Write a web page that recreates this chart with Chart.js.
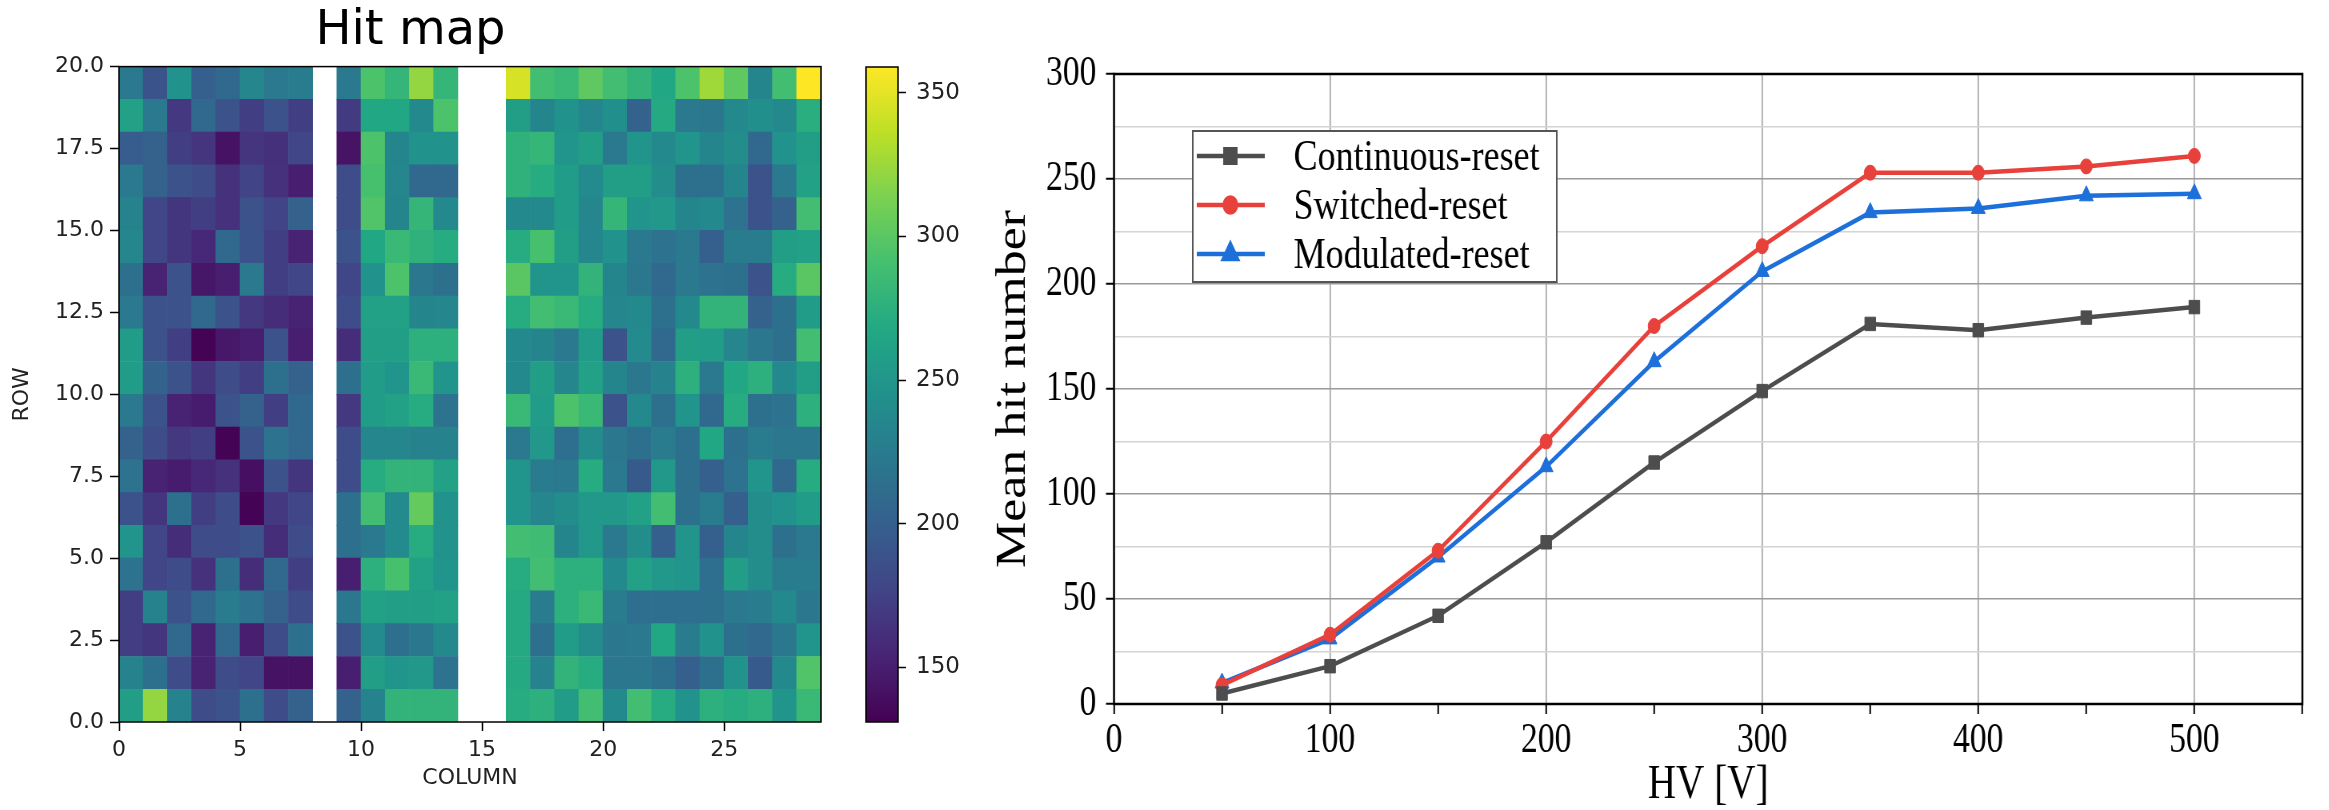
<!DOCTYPE html>
<html>
<head>
<meta charset="utf-8">
<title>Hit map / Mean hit number</title>
<script src="https://cdn.jsdelivr.net/npm/chart.js@4.4.1/dist/chart.umd.min.js"></script>
<style>
  html, body { margin: 0; padding: 0; background: #fff; }
  body { width: 2329px; height: 810px; position: relative; overflow: hidden; }
  #hitmap { position: absolute; left: 0; top: 0; }
  #colorbar { position: absolute; left: 850px; top: 0; }
  /* the right panel of the reference is squeezed horizontally */
  #hvWrap { position: absolute; left: 960px; top: 0; width: 1711px; height: 810px;
            transform: scaleX(0.8); transform-origin: 0 0; }
</style>
</head>
<body>
<canvas id="hitmap" width="850" height="810"></canvas>
<canvas id="colorbar" width="110" height="810"></canvas>
<div id="hvWrap"><canvas id="hvChart" width="1711" height="810"></canvas></div>
<script>
// ---- hit map data ----
const COLUMNS = [0, 1, 2, 3, 4, 5, 6, 7, 8, 9, 10, 11, 12, 13, 14, 15, 16, 17, 18, 19, 20, 21, 22, 23, 24, 25, 26, 27, 28];
const X_TICKS = [0, 5, 10, 15, 20, 25];
const Y_TICKS = [0, 2.5, 5, 7.5, 10, 12.5, 15, 17.5, 20];
const CB_TICKS = [150, 200, 250, 300, 350];
const VMIN = 131;
const VMAX = 359;
// one line per row, row 0 at the bottom; null = dead columns (8, 14, 15)
const HIT_COUNTS = [
  [258, 322, 232, 183, 188, 215, 183, 202, null, 202, 232, 279, 279, 279, null, null, 271, 275, 256, 289, 238, 289, 271, 246, 275, 271, 275, 249, 284],
  [232, 215, 183, 153, 183, 178, 142, 142, null, 150, 258, 249, 252, 217, null, null, 269, 232, 279, 271, 221, 221, 215, 200, 215, 246, 195, 238, 296],
  [172, 166, 208, 153, 208, 150, 183, 215, null, 188, 239, 215, 221, 238, null, null, 269, 215, 256, 241, 221, 223, 267, 225, 246, 215, 208, 221, 249],
  [172, 232, 188, 208, 225, 217, 202, 183, null, 221, 261, 258, 258, 261, null, null, 269, 225, 275, 284, 225, 213, 213, 213, 215, 223, 225, 238, 221],
  [217, 178, 183, 163, 215, 160, 208, 172, null, 150, 275, 292, 261, 249, null, null, 271, 289, 275, 275, 238, 261, 252, 249, 213, 258, 241, 225, 225],
  [249, 178, 160, 183, 183, 188, 160, 183, null, 215, 223, 239, 271, 246, null, null, 289, 287, 234, 252, 223, 241, 200, 249, 200, 234, 241, 215, 223],
  [188, 166, 215, 172, 183, 132, 168, 178, null, 215, 289, 239, 304, 246, null, null, 249, 236, 241, 252, 252, 261, 289, 215, 225, 200, 241, 246, 256],
  [217, 153, 148, 157, 163, 140, 188, 166, null, 183, 271, 279, 279, 261, null, null, 249, 225, 223, 271, 223, 195, 252, 215, 200, 217, 249, 208, 271],
  [202, 183, 168, 172, 132, 188, 217, 208, null, 183, 236, 236, 232, 232, null, null, 223, 252, 213, 241, 221, 215, 225, 215, 267, 215, 225, 221, 221],
  [223, 188, 153, 148, 188, 202, 172, 208, null, 168, 256, 261, 271, 217, null, null, 284, 256, 294, 284, 188, 238, 215, 249, 208, 271, 215, 217, 275],
  [256, 203, 188, 166, 183, 172, 215, 202, null, 215, 256, 249, 284, 249, null, null, 238, 258, 236, 261, 234, 221, 232, 275, 223, 267, 275, 238, 258],
  [256, 188, 172, 132, 146, 150, 188, 150, null, 160, 258, 258, 275, 275, null, null, 238, 234, 223, 256, 188, 239, 208, 258, 256, 236, 221, 215, 289],
  [223, 188, 188, 208, 188, 168, 160, 153, null, 183, 261, 261, 234, 236, null, null, 271, 289, 284, 271, 236, 238, 215, 238, 279, 279, 202, 215, 256],
  [215, 153, 188, 145, 150, 223, 172, 178, null, 178, 246, 294, 221, 215, null, null, 300, 249, 249, 279, 234, 221, 208, 223, 217, 215, 188, 271, 300],
  [236, 178, 166, 157, 208, 190, 172, 153, null, 188, 267, 284, 277, 271, null, null, 271, 292, 258, 236, 246, 223, 217, 223, 200, 225, 225, 258, 261],
  [232, 178, 166, 172, 163, 188, 177, 202, null, 183, 296, 234, 281, 238, null, null, 238, 238, 256, 236, 281, 249, 252, 234, 238, 217, 188, 202, 289],
  [223, 202, 188, 183, 163, 177, 163, 150, null, 183, 292, 236, 208, 208, null, null, 277, 271, 256, 239, 258, 258, 241, 215, 215, 234, 188, 223, 261],
  [198, 202, 172, 165, 142, 165, 162, 178, null, 143, 294, 234, 246, 246, null, null, 277, 281, 249, 258, 223, 249, 238, 249, 234, 241, 208, 246, 258],
  [261, 223, 168, 208, 188, 172, 188, 172, null, 170, 267, 267, 238, 294, null, null, 258, 234, 246, 236, 244, 203, 269, 223, 221, 238, 244, 238, 274],
  [223, 190, 246, 200, 208, 236, 223, 225, null, 223, 294, 281, 322, 281, null, null, 345, 289, 284, 302, 289, 279, 267, 294, 326, 302, 234, 289, 359]
];

// ---- mean hit number vs HV ----
const HV = [50, 100, 150, 200, 250, 300, 350, 400, 450, 500];
const CONTINUOUS = [5, 18, 42, 77, 115, 149, 181, 178, 184, 189];
const SWITCHED = [9, 33, 73, 125, 180, 218, 253, 253, 256, 261];
const MODULATED = [10, 31, 70, 113, 163, 206, 234, 236, 242, 243];

// viridis colour map
const VIRIDIS = ['#440154', '#482475', '#414487', '#355f8d', '#2a788e', '#21918c',
                 '#22a884', '#44bf70', '#7ad151', '#bddf26', '#fde725'];

function hexRgb(h) {
    return [1, 3, 5].map(i => parseInt(h.substr(i, 2), 16));
}

function viridis(v) {
    let t = (v - VMIN) / (VMAX - VMIN);
    t = Math.min(1, Math.max(0, t));
    const p = t * (VIRIDIS.length - 1);
    const i = Math.min(Math.floor(p), VIRIDIS.length - 2);
    const f = p - i;
    const a = hexRgb(VIRIDIS[i]);
    const b = hexRgb(VIRIDIS[i + 1]);
    const c = a.map((x, k) => Math.round(x + (b[k] - x) * f));
    return `rgb(${c[0]}, ${c[1]}, ${c[2]})`;
}

// black box round the plot area
function framePlugin(color, width) {
    return {
        id: 'frame',
        afterDatasetsDraw(chart) {
            const {ctx, chartArea: a} = chart;
            ctx.save();
            ctx.strokeStyle = color;
            ctx.lineWidth = width;
            ctx.strokeRect(a.left, a.top, a.right - a.left, a.bottom - a.top);
            ctx.restore();
        }
    };
}

const SANS = 'DejaVu Sans';
const SERIF = "'Liberation Serif', 'Times New Roman', serif";

// 히트맵: each row is a dataset of floating bars [row, row + 1]
const rowSets = HIT_COUNTS.map((vals, r) => ({
    label: 'row ' + r,
    data: COLUMNS.filter(c => vals[c] !== null)
                 .map(c => ({x: c + 0.5, y: [r, r + 1], v: vals[c]})),
    backgroundColor: ctx => (ctx.raw ? viridis(ctx.raw.v) : '#000'),
    borderWidth: 0,
    grouped: false,
    barPercentage: 1,
    categoryPercentage: 1
}));

new Chart(document.getElementById('hitmap'), {
    type: 'bar',
    data: { datasets: rowSets },
    options: {
        responsive: false,
        animation: false,
        events: [],
        layout: { padding: { left: 0, right: 29, top: 0, bottom: 0 } },
        plugins: {
            legend: { display: false },
            tooltip: { enabled: false },
            title: {
                display: true,
                text: 'Hit map',
                color: '#000',
                font: { family: SANS, size: 48, weight: 'normal', lineHeight: 1.2 },
                padding: { top: 3, bottom: 6 }
            }
        },
        scales: {
            x: {
                type: 'linear',
                min: 0,
                max: 29,
                offset: false,
                afterBuildTicks: s => { s.ticks = X_TICKS.map(v => ({ value: v })); },
                afterFit: s => { s.height = 88; },
                ticks: { color: '#222', font: { family: SANS, size: 22 }, padding: 6, maxRotation: 0, autoSkip: false },
                grid: { offset: false, drawOnChartArea: false, tickLength: 9, tickColor: '#000', tickWidth: 1.5 },
                border: { display: false },
                title: {
                    display: true, text: 'COLUMN', color: '#222',
                    font: { family: SANS, size: 22, lineHeight: 1 },
                    padding: { top: 0, bottom: 21 }
                }
            },
            y: {
                type: 'linear',
                min: 0,
                max: 20,
                afterBuildTicks: s => { s.ticks = Y_TICKS.map(v => ({ value: v })); },
                afterFit: s => { s.width = 119; },
                ticks: { color: '#222', font: { family: SANS, size: 22 }, padding: 6,
                         callback: v => Number(v).toFixed(1) },
                grid: { drawOnChartArea: false, tickLength: 9, tickColor: '#000', tickWidth: 1.5 },
                border: { display: false },
                title: {
                    display: true, text: 'ROW', color: '#222',
                    font: { family: SANS, size: 22, lineHeight: 1 },
                    padding: { top: 11, bottom: 0 }
                }
            }
        }
    },
    plugins: [framePlugin('#000', 1.5)]
});

// colour bar
new Chart(document.getElementById('colorbar'), {
    type: 'bar',
    data: {
        labels: ['cb'],
        datasets: [{
            data: [[VMIN, VMAX]],
            backgroundColor: ctx => {
                const a = ctx.chart.chartArea;
                if (!a) return '#21918c';
                const g = ctx.chart.ctx.createLinearGradient(0, a.bottom, 0, a.top);
                VIRIDIS.forEach((c, i) => g.addColorStop(i / (VIRIDIS.length - 1), c));
                return g;
            },
            borderWidth: 0,
            barPercentage: 1,
            categoryPercentage: 1
        }]
    },
    options: {
        responsive: false,
        animation: false,
        events: [],
        layout: { padding: { left: 16, right: 0, top: 67, bottom: 88 } },
        plugins: { legend: { display: false }, tooltip: { enabled: false } },
        scales: {
            x: { display: false },
            y: {
                position: 'right',
                min: VMIN,
                max: VMAX,
                afterBuildTicks: s => { s.ticks = CB_TICKS.map(v => ({ value: v })); },
                afterFit: s => { s.width = 62; },
                ticks: { color: '#222', font: { family: SANS, size: 23 }, padding: 10 },
                grid: { drawOnChartArea: false, tickLength: 8, tickColor: '#000', tickWidth: 1.5 },
                border: { display: false }
            }
        }
    },
    plugins: [framePlugin('#000', 1.5)]
});

// HV chart
const GRAY = '#4d4d4d';
const RED = '#e8413b';
const BLUE = '#1d6fd9';

function series(label, values, color, style, radius) {
    return {
        label: label,
        data: HV.map((x, i) => ({ x: x, y: values[i] })),
        borderColor: color,
        backgroundColor: color,
        borderWidth: 4.5,
        pointStyle: style,
        pointRadius: radius,
        pointBorderWidth: 1,
        tension: 0
    };
}

// 범례: drawn inside the plot like the reference
const boxLegend = {
    id: 'boxLegend',
    afterDatasetsDraw(chart) {
        const ctx = chart.ctx;
        const left = 291, top = 131, right = 746, bottom = 282;
        const rows = [156, 205, 254];
        ctx.save();
        ctx.fillStyle = '#fff';
        ctx.fillRect(left, top, right - left, bottom - top);
        ctx.strokeStyle = '#555';
        ctx.lineWidth = 2;
        ctx.strokeRect(left, top, right - left, bottom - top);
        chart.data.datasets.forEach((ds, i) => {
            const y = rows[i];
            ctx.strokeStyle = ds.borderColor;
            ctx.lineWidth = ds.borderWidth;
            ctx.beginPath();
            ctx.moveTo(296, y);
            ctx.lineTo(381, y);
            ctx.stroke();
            ctx.fillStyle = ds.backgroundColor;
            Chart.helpers.drawPoint(ctx, { pointStyle: ds.pointStyle, radius: ds.pointRadius, borderWidth: 1, rotation: 0 }, 338, y);
            ctx.fill();
            ctx.fillStyle = '#000';
            ctx.font = '45px ' + SERIF;
            ctx.textBaseline = 'middle';
            ctx.textAlign = 'left';
            ctx.fillText(ds.label, 417, y + 2);
        });
        ctx.restore();
    }
};

new Chart(document.getElementById('hvChart'), {
    type: 'line',
    data: {
        datasets: [
            series('Continuous-reset', CONTINUOUS, GRAY, 'rect', 9.5),
            series('Switched-reset', SWITCHED, RED, 'circle', 7.5),
            series('Modulated-reset', MODULATED, BLUE, 'triangle', 10)
        ]
    },
    options: {
        responsive: false,
        animation: false,
        events: [],
        layout: { padding: { left: 0, right: 33, top: 74, bottom: 0 } },
        plugins: { legend: { display: false }, tooltip: { enabled: false } },
        scales: {
            x: {
                type: 'linear',
                min: 0,
                max: 550,
                afterFit: s => { s.height = 106; },
                ticks: {
                    stepSize: 50,
                    autoSkip: false,
                    maxRotation: 0,
                    padding: 2,
                    color: '#000',
                    font: { family: SERIF, size: 42 },
                    callback: v => (v % 100 === 0 ? String(v) : '')
                },
                grid: {
                    color: c => (c.tick && c.tick.value % 100 === 0 ? '#9a9a9a' : 'rgba(0,0,0,0)'),
                    lineWidth: 1.5,
                    tickLength: 10,
                    tickColor: '#000',
                    tickWidth: 2
                },
                border: { display: false },
                title: {
                    display: true, text: 'HV [V]', color: '#000',
                    font: { family: SERIF, size: 49, lineHeight: 1 },
                    padding: { top: 0, bottom: 0 }
                }
            },
            y: {
                type: 'linear',
                min: 0,
                max: 300,
                afterFit: s => { s.width = 192.5; },
                ticks: {
                    stepSize: 25,
                    autoSkip: false,
                    padding: 12,
                    color: '#000',
                    font: { family: SERIF, size: 42 },
                    callback: v => (v % 50 === 0 ? String(v) : '')
                },
                grid: {
                    color: c => (c.tick && c.tick.value % 50 === 0 ? '#9a9a9a' : '#d4d4d4'),
                    borderDash: c => (c.tick && c.tick.value % 50 === 0 ? [] : [5, 4]),
                    dash: c => (c.tick && c.tick.value % 50 === 0 ? [] : [5, 4]),
                    lineWidth: 1.5,
                    tickLength: 10,
                    tickColor: c => (c.tick && c.tick.value % 50 === 0 ? '#000' : 'rgba(0,0,0,0)'),
                    tickWidth: 2
                },
                border: { display: false },
                title: {
                    display: true, text: 'Mean hit number', color: '#000',
                    font: { family: SERIF, size: 52, lineHeight: 1 },
                    padding: { top: 41, bottom: 0 }
                }
            }
        }
    },
    plugins: [framePlugin('#000', 2.5), boxLegend]
});
</script>
</body>
</html>
